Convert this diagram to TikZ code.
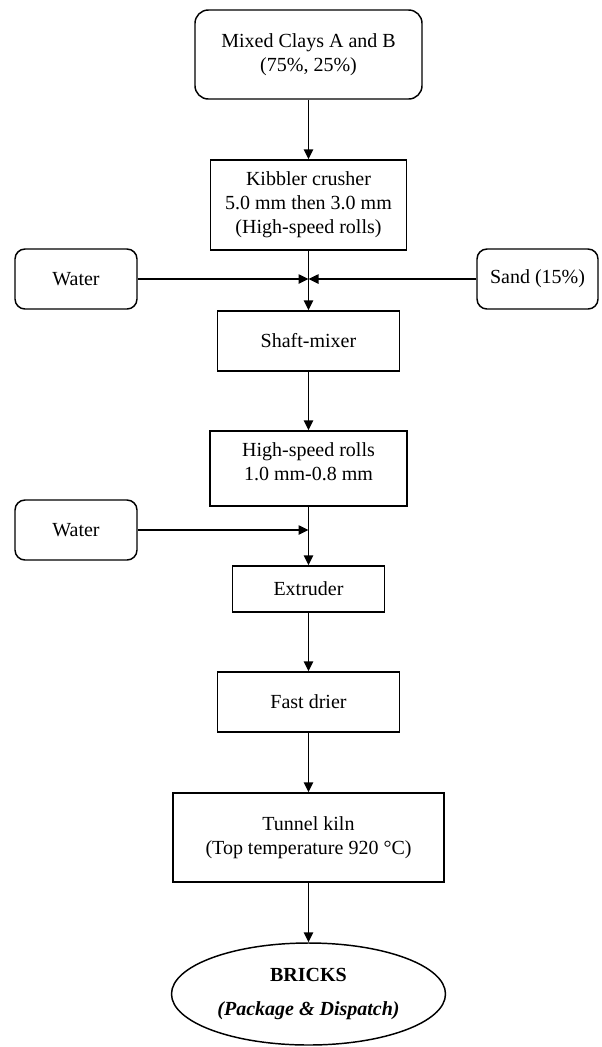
\documentclass[tikz,border=0pt]{standalone}
\usepackage{fontspec}
\setmainfont{Liberation Serif}
\usetikzlibrary{arrows.meta,shapes.geometric}
\begin{document}
\begin{tikzpicture}[x=0.75pt,y=-0.75pt,
  every node/.style={font=\fontsize{15}{18}\selectfont, align=center},
  box/.style={draw, line width=1.1pt, rectangle, inner sep=2pt},
  rbox/.style={draw, line width=1.1pt, rectangle, rounded corners=7.5pt, inner sep=2pt},
  flow/.style={line width=1.1pt, -{Triangle[length=7.5pt,width=7pt]}},
  feed/.style={line width=1.1pt, -{Triangle[length=7.5pt,width=7pt]}}]
\useasboundingbox (0,0) rectangle (602,1047);
\fill[white] (0,0) rectangle (602,1047);

\node[rbox, rounded corners=10pt, minimum width=170.25pt, minimum height=66.75pt] (mixed) at (308.5,54.5)
  {Mixed Clays A and B\\(75\%, 25\%)};
\node[box, minimum width=147pt, minimum height=67.5pt] (kibbler) at (308.5,205)
  {Kibbler crusher\\5.0 mm then 3.0 mm\\(High-speed rolls)};
\node[rbox, minimum width=91.5pt, minimum height=45pt] (water1) at (76,279) {Water};
\node[rbox, minimum width=90.75pt, minimum height=45pt] (sand) at (537.5,279) {Sand (15\%)};
\node[box, minimum width=136.5pt, minimum height=45pt] (shaft) at (308.5,341) {Shaft-mixer};
\node[box, minimum width=147.75pt, minimum height=56.25pt] (rolls) at (308.5,468.5) {};
\node[yshift=5.25pt] (rollstext) at (rolls.center) {High-speed rolls\\1.0 mm-0.8 mm};
\node[rbox, minimum width=91.5pt, minimum height=45pt] (water2) at (76,530) {Water};
\node[box, minimum width=114pt, minimum height=34.5pt] (extruder) at (308.5,589) {Extruder};
\node[box, minimum width=136.5pt, minimum height=45pt] (drier) at (308.5,702) {Fast drier};
\node[box, minimum width=203.25pt, minimum height=66.75pt] (kiln) at (308.5,837.5)
  {Tunnel kiln\\(Top temperature 920 °C)};
\node[draw, line width=1.1pt, ellipse, minimum width=205.5pt, minimum height=76.5pt, inner sep=0pt] (bricks) at (308.5,994)
  {\textbf{BRICKS}\\[8pt]\textbf{\textit{(Package \& Dispatch)}}};

\coordinate (j1) at (kibbler.south |- water1.east);
\coordinate (j2) at (rolls.south |- water2.east);

\draw[flow] (mixed.south) -- (kibbler.north);
\draw[flow] (kibbler.south) -- (shaft.north);
\draw[feed] (water1.east) -- (j1);
\draw[feed] (sand.west) -- (j1);
\draw[flow] (shaft.south) -- (rolls.north);
\draw[flow] (rolls.south) -- (extruder.north);
\draw[feed] (water2.east) -- (j2);
\draw[flow] (extruder.south) -- (drier.north);
\draw[flow] (drier.south) -- (kiln.north);
\draw[flow] (kiln.south) -- (bricks.north);
\end{tikzpicture}
\end{document}
